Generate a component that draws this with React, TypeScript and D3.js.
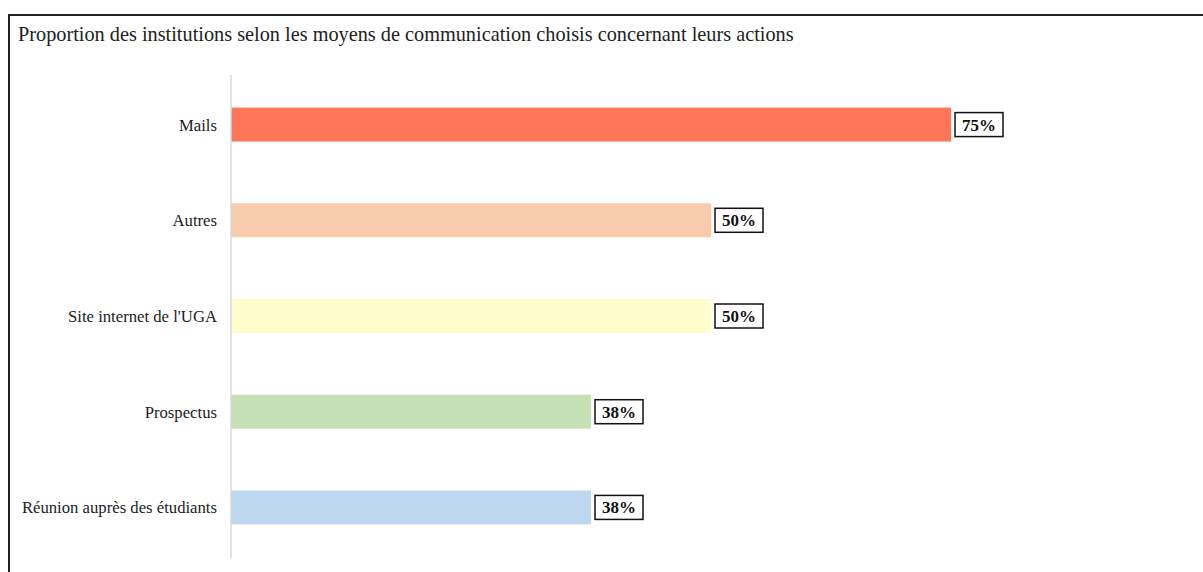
import React from "react";
import * as d3 from "d3";

const categories = ["Mails", "Autres", "Site internet de l'UGA", "Prospectus", "Réunion auprès des étudiants"];
const values = [0.75, 0.5, 0.5, 0.375, 0.375];
const colors = ["#FF7758", "#F8CBAD", "#FFFDCC", "#C5E0B4", "#BDD7EE"];
const title = "Proportion des institutions selon les moyens de communication choisis concernant leurs actions";

const W = 1203;
const H = 572;
const x0 = 231;
const font = "'Times New Roman', 'Liberation Serif', serif";

export default function App() {
  const x = d3.scaleLinear().domain([0, 1]).range([x0, x0 + 960]);
  const y = d3.scaleBand<string>().domain(categories).range([76, 556]).paddingInner(0.645).paddingOuter(0.33);
  return (
    <div style={{ position: "absolute", left: 0, top: 0 }}>
      <svg width={W} height={H} style={{ display: "block" }}>
        <rect x={0} y={0} width={W} height={H} fill="#fff" />
        <rect x={9} y={15} width={1200} height={600} fill="none" stroke="#222" strokeWidth={2} />
        <text x={18} y={41} fontFamily={font} fontSize={20.3} fill="#222">{title}</text>
        {categories.map((c, i) => {
          const yy = y(c)!;
          const bw = y.bandwidth();
          const xe = x(values[i]);
          const label = `${Math.round(values[i] * 100)}%`;
          const bx = xe + 4;
          const bwid = 48;
          return (
            <g key={c}>
              <rect x={x0} y={yy} width={xe - x0} height={bw} fill={colors[i]} />
              <text x={217} y={yy + bw / 2 + 6} textAnchor="end" fontFamily={font} fontSize={16.7} fill="#222">{c}</text>
              <rect x={bx} y={yy + bw / 2 - 12} width={bwid} height={24} fill="#fff" stroke="#111" strokeWidth={1.5} />
              <text x={bx + bwid / 2} y={yy + bw / 2 + 6} textAnchor="middle" fontFamily={font} fontWeight="bold" fontSize={17} fill="#111">{label}</text>
            </g>
          );
        })}
        <line x1={x0} x2={x0} y1={75} y2={558} stroke="#d9d9d9" strokeWidth={1.5} />
      </svg>
    </div>
  );
}
